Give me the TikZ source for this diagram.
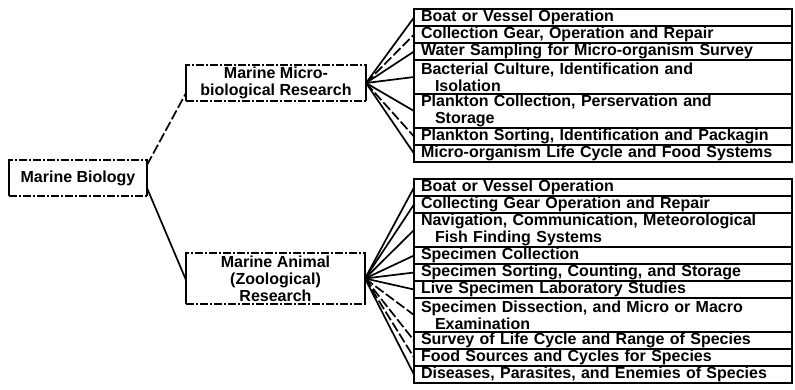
\documentclass[tikz,border=0pt]{standalone}
\usepackage{fontspec}
\setmainfont{Liberation Sans}
\usetikzlibrary{positioning}

\begin{document}
\begin{tikzpicture}[x=1pt,y=-1pt,
  every node/.style={font=\bfseries\fontsize{16}{17}\selectfont},
  topic/.style={draw,line width=1.5pt,dash pattern=on 8pt off 2pt on 2pt off 2pt,
    align=center,inner sep=0pt,outer sep=0pt},
  entry/.style={draw,line width=1.5pt,text width=364pt,inner xsep=7pt,inner ysep=0pt,
    outer sep=0pt,minimum height=17pt,align=left},
  entry2/.style={entry,minimum height=34pt},
  link/.style={line width=1.7pt},
  brokenlink/.style={link,dash pattern=on 10pt off 3pt}]
\useasboundingbox (0,0) rectangle (795,390);

\node[topic,minimum width=138pt,minimum height=36pt] (root) at (78,178) {Marine Biology};
\node[topic,minimum width=180pt,minimum height=36pt] (micro) at (276,83)
  {Marine Micro-\\biological Research};
\node[topic,minimum width=179pt,minimum height=51pt] (animal) at (275.5,278.5)
  {Marine Animal\\(Zoological)\\Research};
\foreach \b in {root,micro,animal}
  \draw[link] (\b.north west) -- (\b.south west) (\b.north east) -- (\b.south east);

% micro-biological tasks
\node[entry,anchor=north west] (u1) at (414,9) {Boat or Vessel Operation};
\node[entry,below=0pt of u1] (u2) {Collection Gear, Operation and Repair};
\node[entry,below=0pt of u2] (u3) {Water Sampling for Micro-organism Survey};
\node[entry2,below=0pt of u3] (u4) {Bacterial Culture, Identification and\\\hspace*{14pt}Isolation};
\node[entry2,below=0pt of u4] (u5) {Plankton Collection, Perservation and\\\hspace*{14pt}Storage};
\node[entry,below=0pt of u5] (u6) {Plankton Sorting, Identification and Packagin};
\node[entry,below=0pt of u6] (u7) {Micro-organism Life Cycle and Food Systems};

% zoological tasks
\node[entry,anchor=north west] (l1) at (414,179) {Boat or Vessel Operation};
\node[entry,below=0pt of l1] (l2) {Collecting Gear Operation and Repair};
\node[entry2,below=0pt of l2] (l3) {Navigation, Communication, Meteorological\\\hspace*{14pt}Fish Finding Systems};
\node[entry,below=0pt of l3] (l4) {Specimen Collection};
\node[entry,below=0pt of l4] (l5) {Specimen Sorting, Counting, and Storage};
\node[entry,below=0pt of l5] (l6) {Live Specimen Laboratory Studies};
\node[entry2,below=0pt of l6] (l7) {Specimen Dissection, and Micro or Macro\\\hspace*{14pt}Examination};
\node[entry,below=0pt of l7] (l8) {Survey of Life Cycle and Range of Species};
\node[entry,below=0pt of l8] (l9) {Food Sources and Cycles for Species};
\node[entry,below=0pt of l9] (l10) {Diseases, Parasites, and Enemies of Species};

\draw[brokenlink] ([yshift=13pt]root.east) -- ([yshift=-10pt]micro.west);
\draw[link] ([yshift=-10pt]root.east) -- ([yshift=-1.5pt]animal.west);

\foreach \r in {u1,u3,u4,u5,u7} \draw[link] (micro.east) -- (\r.west);
\foreach \r in {u2,u6} \draw[brokenlink] (micro.east) -- (\r.west);
\foreach \r in {l1,l2,l3,l4,l5,l6,l10} \draw[link] (animal.east) -- (\r.west);
\foreach \r in {l7,l8,l9} \draw[brokenlink] (animal.east) -- (\r.west);
\end{tikzpicture}
\end{document}
